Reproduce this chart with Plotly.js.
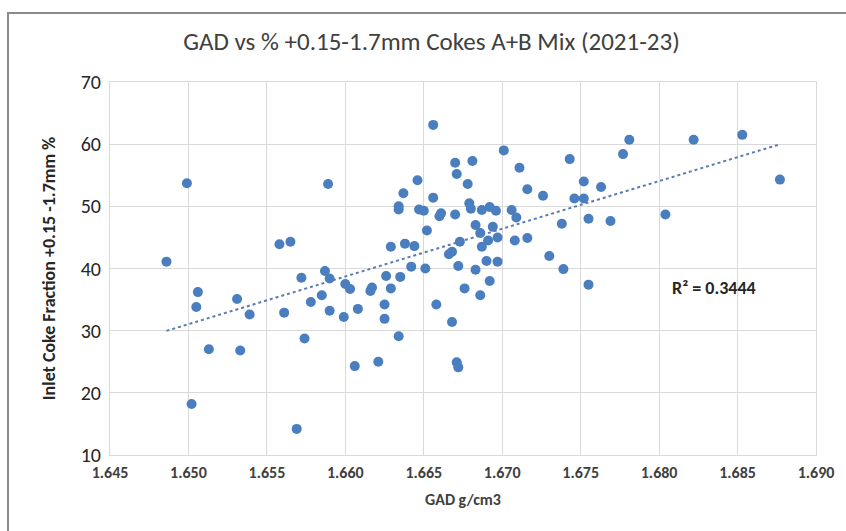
<!DOCTYPE html>
<html>
<head>
<meta charset="utf-8">
<script src="https://cdn.plot.ly/plotly-3.0.1.min.js"></script>
<style>
  html, body { margin: 0; padding: 0; background: #fff; }
  #wrap { position: relative; width: 846px; height: 531px; overflow: hidden; }
  #frame { position: absolute; left: 7px; top: 12px; width: 900px; height: 600px;
           border-left: 2px solid #8a8a8a; border-top: 2px solid #8a8a8a; pointer-events: none; z-index: 5; }
  #chart { position: absolute; left: 0; top: 0; width: 846px; height: 531px; }
</style>
</head>
<body>
<div id="wrap">
  <div id="chart"></div>
  <div id="frame"></div>
</div>
<script>
// GAD (g/cm3) values
const gad = [
  1.6486, 1.6499, 1.6506, 1.6505, 1.6513, 1.6502, 1.6531, 1.6533, 1.6539, 1.6561,
  1.6558, 1.6565, 1.6572, 1.6574, 1.6569, 1.6578, 1.6585, 1.6587, 1.6590, 1.6590,
  1.6589, 1.6599, 1.6600, 1.6603, 1.6608, 1.6606, 1.6616, 1.6617, 1.6621, 1.6626,
  1.6625, 1.6625, 1.6629, 1.6629, 1.6634, 1.6635, 1.6638, 1.6637, 1.6634, 1.6634,
  1.6642, 1.6644, 1.6646, 1.6647, 1.6650, 1.6651, 1.6652, 1.6656, 1.6656, 1.6658,
  1.6661, 1.6660, 1.6666, 1.6668, 1.6668, 1.6670, 1.6670, 1.6671, 1.6671, 1.6672,
  1.6672, 1.6673, 1.6676, 1.6678, 1.6679, 1.6680, 1.6681, 1.6683, 1.6683, 1.6686,
  1.6686, 1.6687, 1.6687, 1.6690, 1.6691, 1.6692, 1.6692, 1.6694, 1.6696, 1.6697,
  1.6697, 1.6701, 1.6706, 1.6709, 1.6708, 1.6711, 1.6716, 1.6716, 1.6726, 1.6730,
  1.6738, 1.6739, 1.6743, 1.6746, 1.6752, 1.6752, 1.6755, 1.6755, 1.6763, 1.6769,
  1.6777, 1.6781, 1.6804, 1.6822, 1.6853, 1.6877
];
// Inlet coke fraction +0.15-1.7mm (%)
const fraction = [
  41.1, 53.7, 36.2, 33.8, 27.0, 18.2, 35.1, 26.8, 32.6, 32.9,
  43.9, 44.3, 38.5, 28.75, 14.2, 34.6, 35.7, 39.6, 38.4, 33.2,
  53.6, 32.2, 37.5, 36.7, 33.5, 24.3, 36.4, 36.95, 25.0, 38.8,
  34.2, 31.9, 36.8, 43.5, 29.1, 38.65, 44.0, 52.1, 50.0, 49.5,
  40.3, 43.6, 54.2, 49.5, 49.3, 40.0, 46.1, 63.1, 51.4, 34.2,
  48.9, 48.4, 42.3, 42.7, 31.4, 57.0, 48.7, 55.2, 24.9, 24.1,
  40.4, 44.3, 36.8, 53.6, 50.5, 49.6, 57.3, 47.0, 39.8, 45.7,
  35.7, 49.4, 43.5, 41.2, 44.5, 49.9, 38.0, 46.7, 49.3, 45.0,
  41.1, 59.0, 49.4, 48.2, 44.5, 56.2, 52.75, 44.9, 51.7, 42.0,
  47.2, 39.9, 57.6, 51.25, 51.25, 54.0, 48.0, 37.4, 53.1, 47.65,
  58.4, 60.7, 48.7, 60.7, 61.5, 54.3
];
const xTickVals = [1.645, 1.650, 1.655, 1.660, 1.665, 1.670, 1.675, 1.680, 1.685, 1.690];
const yTickVals = [10, 20, 30, 40, 50, 60, 70];
const r2Label = "R² = 0.3444";
const titleText = "GAD vs % +0.15-1.7mm Cokes A+B Mix (2021-23)";
const xTitle = "GAD g/cm3";
const yTitle = "Inlet Coke Fraction +0.15 -1.7mm %";

// Linear least-squares trendline from the data
const n = gad.length;
const mx = gad.reduce((a, b) => a + b, 0) / n;
const my = fraction.reduce((a, b) => a + b, 0) / n;
let sxy = 0, sxx = 0;
for (let i = 0; i < n; i++) { sxy += (gad[i] - mx) * (fraction[i] - my); sxx += (gad[i] - mx) ** 2; }
const slope = sxy / sxx, icpt = my - slope * mx;
const xmin = Math.min(...gad), xmax = Math.max(...gad);
const trendX = [xmin, xmax];
const trendY = trendX.map(v => icpt + slope * v);

const gridCol = '#d9d9d9';
const font = 'Carlito, Calibri, "Liberation Sans Narrow", "Open Sans", sans-serif';

Plotly.newPlot('chart', [
  {
    x: gad, y: fraction, type: 'scatter', mode: 'markers',
    marker: { color: '#4a7ebf', size: 10 },
    hoverinfo: 'x+y', showlegend: false
  },
  {
    x: trendX, y: trendY, type: 'scatter', mode: 'lines',
    line: { color: '#5b7bb0', width: 2, dash: 'dot' },
    hoverinfo: 'skip', showlegend: false
  }
], {
  width: 846, height: 531,
  margin: { l: 110, r: 30, t: 82, b: 76 },
  paper_bgcolor: '#fff', plot_bgcolor: '#fff',
  title: { text: titleText, x: 0.51, xanchor: 'center', y: 0.922, yanchor: 'middle',
           font: { family: font, size: 25, color: '#404040' } },
  xaxis: {
    range: [1.645, 1.690], tickvals: xTickVals, tickformat: '.3f',
    showgrid: true, gridcolor: gridCol, gridwidth: 1,
    showline: true, linecolor: gridCol, linewidth: 1, mirror: true,
    zeroline: false, ticks: 'outside', ticklen: 3, tickcolor: '#ffffff',
    tickfont: { family: font, size: 16, color: '#404040', weight: 'bold' },
    title: { text: xTitle, standoff: 12, font: { family: font, size: 16, color: '#404040', weight: 'bold' } }
  },
  yaxis: {
    range: [10, 70], tickvals: yTickVals,
    showgrid: true, gridcolor: gridCol, gridwidth: 1,
    showline: true, linecolor: gridCol, linewidth: 1, mirror: true,
    zeroline: false, ticks: 'outside', ticklen: 4, tickcolor: '#ffffff',
    tickfont: { family: font, size: 20, color: '#262626' },
    title: { text: yTitle, standoff: 20, font: { family: font, size: 18, color: '#262626', weight: 'bold' } }
  },
  annotations: [{
    x: 1.6835, y: 36.8, xref: 'x', yref: 'y', text: r2Label, showarrow: false,
    font: { family: font, size: 18, color: '#262626', weight: 'bold' }
  }]
}, { displayModeBar: false, staticPlot: true });
</script>
</body>
</html>
